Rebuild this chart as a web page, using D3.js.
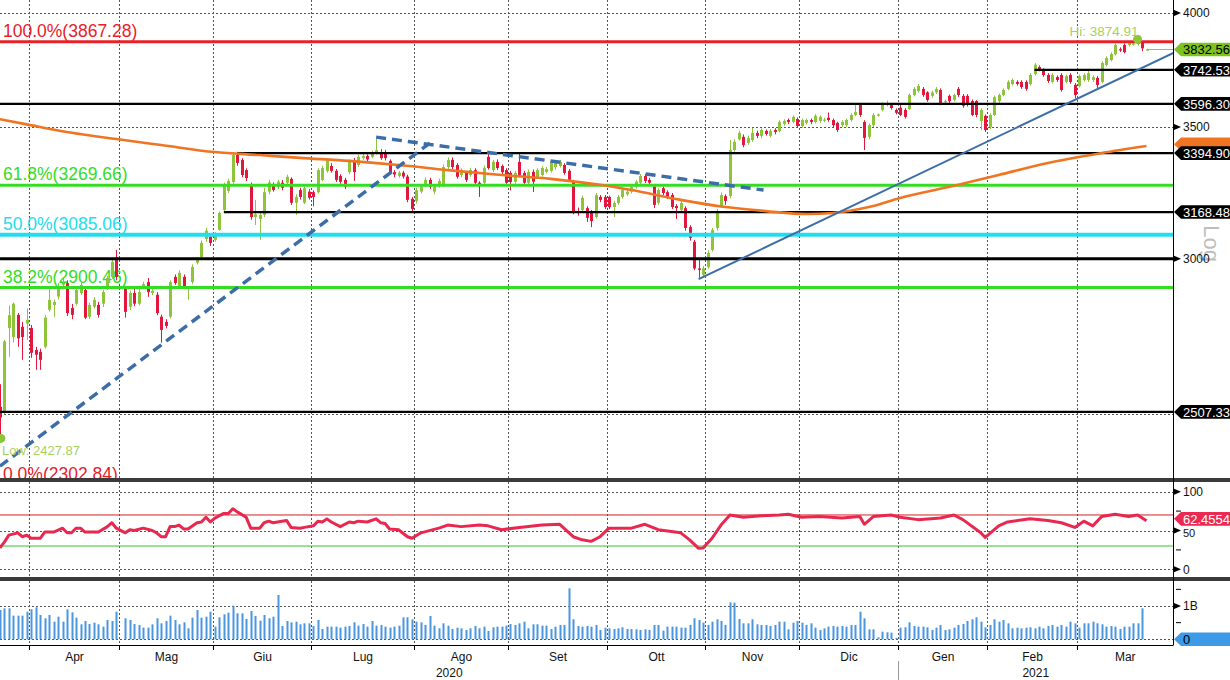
<!DOCTYPE html>
<html><head><meta charset="utf-8">
<script src="https://cdn.jsdelivr.net/npm/d3@7"></script>
<style>body{margin:0;background:#fff}svg{display:block;font-family:"Liberation Sans",Arial,sans-serif}</style>
</head><body><svg id="c" width="1230" height="680"></svg>
<script>
// ---------- DATA ----------
const startDate = "2020-03-23", endDate = "2021-03-22";
const holidays = ["2020-04-10","2020-04-13","2020-12-25","2021-01-01"];
const monthNames = ["Gen","Feb","Mar","Apr","Mag","Giu","Lug","Ago","Set","Ott","Nov","Dic"];

const open = [2522,2505,2766,2737,2809,2770,2781,2766,2696,2690,
2706,2826,2842,2870,2910,2915,2832,2846,2882,2892,
2803,2836,2842,2846,2899,2937,3004,null,2899,2836,
2882,2846,2905,2919,2882,2876,2803,2786,2803,2937,
2902,2937,2895,2919,2986,3006,3070,3078,3067,3103,
3176,3248,3282,3387,3368,3328,3271,3150,3143,3158,
3245,3271,3264,3279,3279,3294,3203,3251,3203,3245,
3243,3243,3290,3325,3344,3325,3305,3290,3320,3364,
3348,3375,3383,3380,3399,3399,3399,3364,3320,3305,
3318,3303,3218,3210,3245,3271,3290,3245,3267,3267,
3340,3368,3348,3309,3317,3309,3328,3279,3279,3380,
3328,3360,3344,3328,3317,3283,3360,3317,3279,3321,
3302,3309,3321,3325,3340,3344,3348,3325,3286,3172,
3176,3183,3165,3150,3225,3225,3225,3187,3202,3225,
3235,3245,3264,3279,3305,3290,3264,3203,3258,3243,
3232,3191,3176,3183,3113,3060,2966,2944,2970,3031,
3110,3191,3228,3229,3407,3450,3460,3435,3447,3476,
3464,3484,3464,3488,3484,3512,3529,3521,3533,3504,
3517,3529,3521,3525,3527,3538,3529,3517,3508,3508,
3529,3550,3592,3521,3460,3508,3547,3571,3592,3592,
3571,3580,3571,3575,3634,3651,3660,3645,3630,3645,
3655,3604,3630,3613,3660,3630,3630,3608,3608,3525,
3546,3500,3550,3608,3634,3660,3681,3690,3690,3690,
3681,3724,3755,3742,3720,3690,3711,3720,3690,3720,
3677,3672,3698,3698,3698,3707,3690,3764,3786,3812,
3834,3853,3853,3856,3857,3866,3830];
const high = [2590,2728,2840,2850,2815,2786,2830,2776,2706,2700,
2809,2901,2860,2915,2935,2925,2845,2900,2920,2900,
2850,2868,2852,2892,2940,2999,3031,null,2905,2890,
2895,2895,2920,2933,2895,2885,2810,2795,2925,2945,
2960,2945,2905,2980,3005,3065,3110,3090,3095,3170,
3280,3295,3399,3400,3375,3335,3280,3214,3170,3260,
3290,3280,3290,3290,3310,3300,3235,3260,3265,3255,
3250,3335,3345,3372,3355,3332,3312,3298,3370,3375,
3388,3392,3390,3405,3452,3410,3408,3370,3328,3325,
3325,3310,3225,3260,3272,3300,3298,3272,3295,3350,
3378,3378,3355,3335,3325,3337,3335,3285,3345,3390,
3368,3370,3350,3335,3325,3325,3399,3325,3330,3330,
3335,3343,3340,3368,3362,3368,3355,3332,3290,3185,
3230,3190,3176,3240,3232,3232,3230,3210,3232,3260,
3253,3272,3290,3313,3313,3298,3270,3258,3265,3250,
3240,3198,3210,3190,3120,3067,2996,2975,3030,3110,
3180,3242,3235,3447,3450,3485,3470,3465,3497,3485,
3495,3490,3492,3495,3528,3532,3535,3548,3540,3535,
3535,3535,3553,3548,3538,3560,3535,3522,3528,3535,
3557,3592,3596,3528,3515,3557,3556,3604,3610,3600,
3577,3600,3578,3640,3668,3681,3668,3650,3652,3668,
3662,3615,3636,3640,3668,3638,3637,3615,3612,3578,
3552,3557,3632,3640,3662,3697,3705,3697,3697,3697,
3728,3772,3762,3750,3728,3728,3718,3728,3722,3728,
3685,3722,3728,3742,3718,3715,3780,3802,3820,3860,
3842,3860,3872,3865,3874.91,3868,3836];
const low = [2427.87,2500,2675,2720,2706,2665,2728,2671,2634,2634,
2700,2820,2803,2860,2895,2805,2795,2840,2875,2795,
2795,2830,2800,2835,2892,2930,2925,null,2800,2825,
2838,2840,2895,2869,2875,2808,2719,2765,2798,2910,
2895,2895,2859,2912,2980,3000,3060,3045,3060,3100,
3170,3240,3275,3345,3300,3285,3140,3121,3067,3150,
3235,3245,3255,3250,3270,3195,3158,3215,3198,3215,
3190,3238,3285,3318,3318,3282,3275,3255,3312,3286,
3340,3368,3362,3375,3390,3368,3366,3312,3300,3298,
3295,3205,3165,3200,3238,3262,3255,3235,3260,3262,
3333,3332,3295,3300,3282,3302,3270,3225,3272,3330,
3320,3328,3312,3270,3250,3275,3300,3270,3270,3244,
3295,3302,3315,3318,3330,3338,3310,3282,3160,3155,
3170,3132,3113,3145,3205,3180,3180,3150,3195,3218,
3228,3238,3257,3272,3278,3272,3183,3196,3232,3218,
3180,3143,3170,3100,3064,2960,2934,2935,2965,3025,
3100,3185,3195,3220,3400,3445,3418,3428,3440,3455,
3455,3465,3458,3470,3478,3505,3512,3515,3497,3497,
3510,3512,3515,3517,3520,3522,3500,3480,3500,3500,
3522,3545,3542,3407,3450,3500,3543,3565,3585,3572,
3552,3545,3535,3570,3628,3645,3626,3605,3622,3638,
3590,3597,3600,3606,3626,3580,3585,3545,3540,3488,
3480,3492,3545,3600,3628,3654,3674,3674,3660,3652,
3674,3718,3736,3712,3686,3684,3690,3648,3684,3682,
3620,3666,3692,3690,3690,3664,3684,3758,3780,3806,
3822,3815,3846,3850,3850,3825,3829];
const close = [2491,2723,2808,2846,2733,2737,2793,2687,2681,2665,
2800,2859,2852,2903,2916,2815,2809,2892,2909,2800,
2842,2859,2809,2885,2933,2989,2937,null,2819,2882,
2846,2885,2912,2885,2889,2815,2760,2773,2919,2916,
2951,2902,2900,2971,2996,3056,3100,3056,3085,3165,
3271,3286,3387,3356,3309,3297,3150,3160,3158,3243,
3280,3251,3283,3260,3302,3203,3225,3225,3258,3222,
3225,3328,3336,3364,3325,3290,3283,3264,3364,3320,
3380,3383,3370,3399,3407,3375,3375,3320,3311,3318,
3303,3214,3180,3251,3263,3290,3264,3263,3286,3340,
3368,3340,3302,3328,3290,3328,3279,3271,3336,3336,
3360,3336,3320,3279,3282,3317,3309,3279,3321,3283,
3328,3336,3332,3360,3356,3360,3317,3290,3168,3165,
3222,3147,3135,3232,3214,3187,3187,3202,3225,3251,
3245,3264,3283,3305,3286,3279,3195,3251,3240,3225,
3187,3183,3202,3110,3074,2966,2961,2966,3020,3103,
3172,3232,3210,3407,3440,3476,3427,3456,3476,3464,
3488,3472,3484,3480,3521,3525,3521,3542,3504,3529,
3529,3521,3546,3542,3531,3529,3508,3488,3521,3529,
3550,3562,3550,3456,3508,3550,3552,3596,3600,3579,
3559,3550,3542,3634,3660,3672,3634,3613,3645,3660,
3596,3608,3608,3634,3634,3588,3592,3550,3550,3571,
3488,3550,3625,3634,3655,3690,3698,3681,3668,3660,
3720,3765,3742,3720,3694,3720,3698,3655,3715,3690,
3634,3715,3720,3728,3711,3677,3773,3795,3812,3853,
3829,3821,3866,3860,3866,3838,3832.56];
// volume, billions
const volume = [0.88,0.93,0.93,0.71,0.71,0.71,0.83,0.90,0.96,0.73,
0.63,0.73,0.53,0.68,0.53,0.90,0.81,0.65,0.45,0.55,
0.46,0.50,0.45,0.38,0.58,0.55,0.83,null,0.63,0.58,
0.46,0.43,0.35,0.35,0.45,0.63,0.48,0.55,0.71,0.58,
0.45,0.51,0.33,0.65,0.88,0.65,0.68,0.83,0.38,0.66,
0.75,0.80,1.01,0.78,0.78,0.61,0.85,0.70,0.56,0.73,
0.63,0.68,1.33,0.40,0.55,0.51,0.53,0.45,0.48,0.48,
0.40,0.58,0.31,0.38,0.38,0.38,0.35,0.38,0.40,0.51,
0.41,0.46,0.38,0.55,0.41,0.43,0.38,0.35,0.38,0.41,
0.66,0.66,0.60,0.53,0.51,0.43,0.70,0.41,0.33,0.48,
0.41,0.31,0.35,0.33,0.28,0.33,0.40,0.33,0.38,0.25,
0.36,0.38,0.38,0.41,0.46,0.43,0.48,0.53,0.33,0.45,
0.45,0.41,0.41,0.31,0.38,0.43,0.43,1.53,0.60,0.40,
0.38,0.40,0.38,0.43,0.28,0.35,0.33,0.31,0.33,0.36,
0.31,0.31,0.30,0.28,0.30,0.28,0.43,0.43,0.26,0.38,
0.38,0.38,0.35,0.35,0.43,0.63,0.58,0.50,0.43,0.53,
0.60,0.55,0.43,1.11,1.10,0.61,0.48,0.48,0.60,0.45,
0.43,0.43,0.40,0.43,0.53,0.53,0.30,0.50,0.55,0.50,
0.43,0.48,0.35,0.28,0.33,0.38,0.40,0.38,0.40,0.38,
0.43,0.43,0.83,0.63,0.30,0.30,0.06,0.23,0.21,0.20,
0.04,0.35,0.36,0.51,0.40,0.38,0.38,0.36,0.28,0.35,
0.43,0.28,0.30,0.35,0.43,0.46,0.55,0.60,0.66,0.53,
0.36,0.43,0.60,0.53,0.58,0.48,0.33,0.35,0.33,0.35,
0.36,0.33,0.38,0.33,0.40,0.43,0.38,0.43,0.38,0.53,
0.48,0.35,0.48,0.48,0.53,0.48,0.45,0.38,0.40,0.38,
0.31,0.38,0.38,0.48,0.48,0.93,null];
// RSI samples (slot index, value)
const rsiIdx = [0,1,2,4,5,6,7,9,10,12,14,15,16,17,18,19,22,24,25,26,28,29,30,32,34,35,36,37,38,39,40,41,42,44,45,46,47,48,50,51,52,53,55,56,58,59,60,61,62,64,65,67,68,70,71,72,73,74,76,78,79,80,82,84,85,86,87,89,91,92,94,98,100,103,107,109,112,116,121,125,128,130,132,134,136,141,144,147,152,154,156,157,159,161,163,166,170,174,176,179,183,188,192,193,195,199,201,205,210,213,215,219,220,223,225,230,234,237,240,242,244,246,249,252,254,256];
const rsiVal = [27.5,35,44,47,42,44,40,40,48,48,53,47,47,53,53,48,48,55,60,53,47,51,50,53,50,47,42,42,55,55,57,52,52,60,61,67,61,66,72,72,78,74,67,53,53,60,62,60,61,63,54,53,54,56,62,61,65,61,55,61,60,62,61,65,60,59,52,51,42,40,47,53,57,55,57,56,51,54,57,58,42,38,36,42,53,53,58,51,47,38,27,27.5,40,57,70,67,69,70,71,67,68,66,68,58,68,70,67,64,66,70,64,47,41,56,61,65,63,60,54,62,56,68,71,68,70,62.4554];
// 200-day moving average samples
const maIdx = [0,6,13,26,36,48,58,67,78,89,100,112,123,134,141,152,162,171,180,186,194,201,214,223,234,246,256];
const maVal = [3532,3511,3486,3451,3427,3399,3387,3376,3364,3348,3328,3309,3294,3271,3251,3214,3187,3172,3161,3165,3187,3221,3271,3309,3356,3395,3423];
// Fibonacci retracement
const fibPct = ["100.0%","61.8%","50.0%","38.2%","0.0%"];
const fibVal = [3867.28,3269.66,3085.06,2900.46,2302.84];
// support / resistance levels (value, start slot, tagged)
const srVal = [3742.53,3596.30,3394.90,3168.48,3000,2507.33];
const srStart = [231,0,53,50,0,0];
const srTag = [true,true,true,true,false,true];
// trend lines [slot, price]
const trendUpDash = [[0,2353],[96,3435]];
const trendDownDash = [[84,3459],[170.5,3251]];
const trendUp = [[156,2929],[262,3817]];
const priceTicks = [3000,3500,4000], priceGrid = [2500,3000,3500,4000];
const rsiTicks = [0,50,100], rsiMinor=[25,75];
const volTicks = [0,1], volTickLbl = ["0","1B"], volMinor=[0.5,1.5];
const hiVal = 3874.91, loVal = 2427.87, lastVal = 3832.56, maLast = 3418.21, rsiLast = "62.4554";
const scaleNote = "Log";

// ---------- BUILD ----------
const dates = [];
for (let d = new Date(startDate+"T00:00:00Z"); d <= new Date(endDate+"T00:00:00Z"); d.setUTCDate(d.getUTCDate()+1)) {
  const wd = d.getUTCDay(), iso = d.toISOString().slice(0,10);
  if (wd===0 || wd===6 || holidays.includes(iso)) continue;
  dates.push(new Date(d));
}
const N = dates.length;
const plotR = 1173;
const x = d3.scaleLinear().domain([0, N-1]).range([-0.11, 1146.5]);
const y = d3.scaleLog().domain([3000,4000]).range([258.7,13]);
const yR = d3.scaleLinear().domain([0,100]).range([569.3,491.7]);
const yV = d3.scaleLinear().domain([0,1]).range([639.3,606]);
const UP="#8dc43a", DN="#e3173e", GRID="#555";
const svg = d3.select("#c");
const defs = svg.append("defs");
function clip(id,y0,h){defs.append("clipPath").attr("id",id).append("rect").attr("x",0).attr("y",y0).attr("width",plotR).attr("height",h);}
clip("cm",0,478); clip("cr",482,95); clip("cv",581,64);
const main = svg.append("g").attr("clip-path","url(#cm)");
const rsiG = svg.append("g").attr("clip-path","url(#cr)");
const volG = svg.append("g").attr("clip-path","url(#cv)");

const monthStarts = [];
dates.forEach((d,i)=>{ if(i>0 && d.getUTCMonth()!==dates[i-1].getUTCMonth()) monthStarts.push(i); });
const tickX = monthStarts.map(i=>Math.round(x(i-0.5))+0.5);

// vertical grid
[[main,0,478],[rsiG,482,577],[volG,581,645]].forEach(([g,a,b])=>{
  g.selectAll("line.vg").data(tickX).join("line").attr("class","vg")
   .attr("x1",d=>d).attr("x2",d=>d).attr("y1",a).attr("y2",b)
   .attr("stroke",GRID).attr("stroke-width",1).attr("stroke-dasharray","2,2");
});
function hgrid(g,vals,sc){
  g.selectAll(null).data(vals).join("line")
   .attr("x1",0).attr("x2",plotR).attr("y1",d=>Math.round(sc(d))+0.5).attr("y2",d=>Math.round(sc(d))+0.5)
   .attr("stroke",GRID).attr("stroke-width",1).attr("stroke-dasharray","2,2");
}
hgrid(main,priceGrid,y); hgrid(rsiG,[0,50,100],yR); hgrid(volG,[0,1],yV);

// fib labels (under candles)
const fibCol = ["#e8202a","#33dd22","#22ddf0","#33dd22","#e8202a"];
const fibW = [3,3,4,3,3];
main.selectAll("text.fib").data(fibVal).join("text").attr("class","fib")
  .attr("x",3).attr("y",d=>y(d)-5).attr("font-size",17.5).attr("fill",(d,i)=>fibCol[i])
  .text((d,i)=>fibPct[i]+"("+d.toFixed(2)+")");

// candles
const candles = dates.map((d,i)=>({i,o:open[i],h:high[i],l:low[i],c:close[i]})).filter(d=>d.o!=null);
const cx = i=>Math.round(x(i));
main.selectAll("line.wk").data(candles).join("line").attr("class","wk")
  .attr("x1",d=>cx(d.i)+0.5).attr("x2",d=>cx(d.i)+0.5).attr("y1",d=>y(d.h)).attr("y2",d=>y(d.l))
  .attr("stroke",d=>d.c>=d.o?UP:DN).attr("stroke-width",1);
main.selectAll("rect.bd").data(candles).join("rect").attr("class","bd")
  .attr("x",d=>cx(d.i)-1).attr("width",3)
  .attr("y",d=>y(Math.max(d.o,d.c))).attr("height",d=>Math.max(1.2,Math.abs(y(d.o)-y(d.c))))
  .attr("fill",d=>d.c>=d.o?UP:DN);

// fib lines
main.selectAll("line.fl").data(fibVal).join("line").attr("class","fl")
  .attr("x1",0).attr("x2",plotR).attr("y1",d=>y(d)).attr("y2",d=>y(d))
  .attr("stroke",(d,i)=>fibCol[i]).attr("stroke-width",(d,i)=>fibW[i]);
// support/resistance
main.selectAll("line.sr").data(srVal).join("line").attr("class","sr")
  .attr("x1",(d,i)=>x(srStart[i])).attr("x2",plotR).attr("y1",d=>y(d)).attr("y2",d=>y(d))
  .attr("stroke","#000").attr("stroke-width",(d,i)=>srVal[i]===3000?3:2.2);

// moving average
main.append("path").datum(maIdx.map((k,j)=>[k,maVal[j]])).attr("fill","none")
  .attr("stroke","#f07522").attr("stroke-width",2.6)
  .attr("d",d3.line().x(d=>x(d[0])).y(d=>y(d[1])).curve(d3.curveMonotoneX));
const sline = d3.line().x(d=>x(d[0])).y(d=>y(d[1]));
main.append("path").datum(trendUpDash).attr("d",sline).attr("stroke","#3b6ea8").attr("stroke-width",3.5).attr("stroke-dasharray","10,6").attr("fill","none");
main.append("path").datum(trendDownDash).attr("d",sline).attr("stroke","#3b6ea8").attr("stroke-width",3.5).attr("stroke-dasharray","10,6").attr("fill","none");
main.append("path").datum(trendUp).attr("d",sline).attr("stroke","#3b6ea8").attr("stroke-width",2).attr("fill","none");
// last price line
main.append("line").attr("x1",x(N-1)).attr("x2",plotR).attr("y1",y(lastVal)).attr("y2",y(lastVal)).attr("stroke","#e0a030").attr("stroke-width",1);
// hi / low markers
const hiI = high.indexOf(hiVal), loI = low.indexOf(loVal);
main.append("circle").attr("cx",x(hiI)).attr("cy",y(hiVal)-1).attr("r",4.5).attr("fill","#8dc43a");
main.append("circle").attr("cx",x(loI)+1).attr("cy",y(loVal)-1).attr("r",4.5).attr("fill","#8dc43a");
main.append("text").attr("x",x(hiI)-68).attr("y",y(hiVal)-4).attr("font-size",13.5).attr("fill","#a8d060").text("Hi: "+hiVal.toFixed(2));
main.append("text").attr("x",2).attr("y",y(loVal)+16).attr("font-size",13).attr("fill","#a8d060").text("Low: "+loVal.toFixed(2));

// RSI
rsiG.append("line").attr("x1",0).attr("x2",plotR).attr("y1",yR(70)).attr("y2",yR(70)).attr("stroke","#d42020").attr("stroke-width",1);
rsiG.append("line").attr("x1",0).attr("x2",plotR).attr("y1",yR(30)).attr("y2",yR(30)).attr("stroke","#33c433").attr("stroke-width",1);
rsiG.append("path").datum(rsiIdx.map((k,j)=>[k,rsiVal[j]]))
  .attr("d",d3.line().x(d=>x(d[0])).y(d=>yR(d[1]))).attr("fill","none")
  .attr("stroke","#e8284f").attr("stroke-width",3).attr("stroke-linejoin","round");

// volume
const vols = dates.map((d,i)=>({i,v:volume[i]})).filter(d=>d.v!=null);
volG.selectAll("rect").data(vols).join("rect")
  .attr("x",d=>cx(d.i)-0.5).attr("width",2).attr("y",d=>yV(d.v)).attr("height",d=>yV(0)-yV(d.v))
  .attr("fill","#4a96e0");

// separators and axes
svg.append("rect").attr("x",0).attr("y",478).attr("width",1230).attr("height",4).attr("fill","#3a3a3a");
svg.append("rect").attr("x",0).attr("y",577).attr("width",1230).attr("height",4).attr("fill","#3a3a3a");
svg.append("line").attr("x1",plotR+0.5).attr("x2",plotR+0.5).attr("y1",0).attr("y2",645).attr("stroke","#000");
svg.append("line").attr("x1",0).attr("x2",plotR+0.5).attr("y1",645.5).attr("y2",645.5).attr("stroke","#000");
svg.selectAll("line.mt").data(tickX).join("line").attr("class","mt")
  .attr("x1",d=>d).attr("x2",d=>d).attr("y1",645).attr("y2",650).attr("stroke","#000");

// month labels
const bounds = tickX.concat([plotR]);
monthStarts.forEach((s,k)=>{
  const a = bounds[k], b = bounds[k+1];
  svg.append("text").attr("x",(a+b)/2).attr("y",661).attr("text-anchor","middle").attr("font-size",12)
    .attr("fill","#111").text(monthNames[dates[s].getUTCMonth()]);
});
// year labels
const janK = monthStarts.findIndex(s=>dates[s].getUTCMonth()===0);
const janX = tickX[janK];
svg.append("line").attr("x1",janX).attr("x2",janX).attr("y1",661).attr("y2",680).attr("stroke","#999");
svg.append("text").attr("x",janX/2).attr("y",677).attr("text-anchor","middle").attr("font-size",12).attr("fill","#111").text(dates[0].getUTCFullYear());
svg.append("text").attr("x",(janX+plotR)/2).attr("y",677).attr("text-anchor","middle").attr("font-size",12).attr("fill","#111").text(dates[N-1].getUTCFullYear());

// faint scale note on the right margin
svg.append("text").attr("transform",`translate(${plotR+31},${y(3120)}) rotate(90)`)
  .attr("font-size",22).attr("fill","#bdbdbd").text(scaleNote);

// right axis ticks
function tick(yy,label){
  svg.append("path").attr("d",`M${plotR},${yy-3.5}L${plotR+8},${yy}L${plotR},${yy+3.5}Z`).attr("fill","#000");
  svg.append("text").attr("x",plotR+10).attr("y",yy).attr("dy","0.36em").attr("font-size",12).attr("fill","#111").text(label);
}
function minor(yy){ svg.append("line").attr("x1",plotR+3).attr("x2",plotR+8).attr("y1",yy).attr("y2",yy).attr("stroke","#000"); }
priceTicks.forEach(v=>tick(y(v),v));
rsiTicks.forEach(v=>{ if(v!==50) tick(yR(v),v); }); rsiMinor.forEach(v=>minor(yR(v)));
// the 50 tick sits just below the RSI tag
svg.append("path").attr("d",`M${plotR},${yR(50)-3.5}L${plotR+8},${yR(50)}L${plotR},${yR(50)+3.5}Z`).attr("fill","#000");
svg.append("text").attr("x",plotR+10).attr("y",yR(50)+6).attr("font-size",11).attr("fill","#111").text("50");
volTicks.forEach((v,k)=>{ if(v!==0) tick(yV(v),volTickLbl[k]); }); volMinor.forEach(v=>minor(yV(v)));

function tag(yy,label,fill,col){
  const h=6.8;
  svg.append("path").attr("d",`M${plotR+1},${yy}L${plotR+8},${yy-h}L1230,${yy-h}L1230,${yy+h}L${plotR+8},${yy+h}Z`).attr("fill",fill);
  if(label!==null) svg.append("text").attr("x",plotR+10).attr("y",yy).attr("dy","0.36em").attr("font-size",13).attr("fill",col).text(label);
}
tag(y(maLast)-3,null,"#f07522","#fff");
srVal.forEach((v,i)=>{ if(srTag[i]) tag(y(v),v.toFixed(2),"#000","#fff"); });
tag(y(lastVal),lastVal.toFixed(2),"#7dc21e","#000");
tag(yR(rsiVal[rsiVal.length-1])-2,rsiLast,"#ea2a52","#fff");
tag(yV(0),volTickLbl[0],"#3d9ae8","#000");
</script></body></html>
